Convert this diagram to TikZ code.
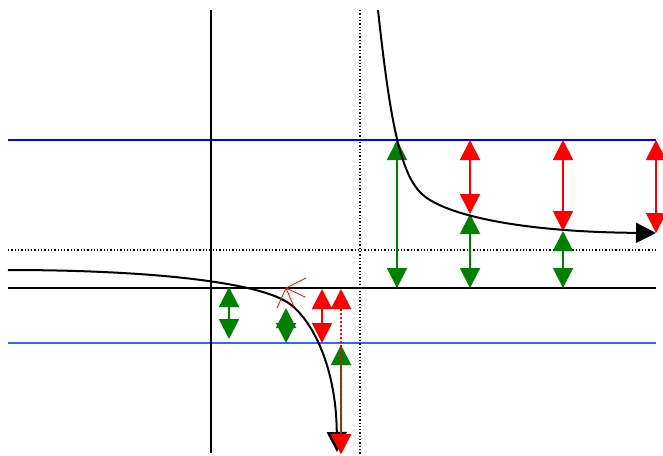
\documentclass[tikz,border=0pt]{standalone}
\usetikzlibrary{arrows.meta}
\definecolor{dgreen}{RGB}{0,128,0}
\definecolor{lblue}{RGB}{51,102,255}
\tikzset{
  tip/.tip={Triangle[length=20pt,width=20pt]},
  axisline/.style={black,line width=1.9pt},
  asym/.style={black,line width=1.3pt,dotted},
  curve/.style={black,line width=2pt,-tip},
  garrow/.style={dgreen,line width=2pt,tip-tip},
  rarrow/.style={red,line width=2pt,tip-tip},
}
\begin{document}
\begin{tikzpicture}[x=1pt,y=-1pt]
\useasboundingbox (0,0) rectangle (663,455);
% guide coordinates
\coordinate (xl) at (8,288); \coordinate (xr) at (656,288);
\coordinate (yt) at (211,10); \coordinate (yb) at (211,453);
\coordinate (hl) at (8,250); \coordinate (hr) at (656,250);
\coordinate (vt) at (360,10); \coordinate (vb) at (360,455);
\coordinate (bl) at (8,140); \coordinate (br) at (656,140);
\coordinate (ll) at (8,343); \coordinate (lr) at (656,343);
% lines
\draw[blue,line width=1.9pt] (bl) -- (br);
\draw[lblue,line width=1.9pt] (ll) -- (lr);
\draw[asym] (hl) -- (hr);
\draw[asym] (vt) -- (vb);
\draw[axisline] (xl) -- (xr);
\draw[axisline] (yt) -- (yb);
% right-side arrows
\coordinate (a1t) at (397,140); \coordinate (a1b) at (397,288);
\coordinate (a2t) at (470,140); \coordinate (a2m) at (470,214); \coordinate (a2b) at (470,288);
\coordinate (a3t) at (563,140); \coordinate (a3m) at (563,231); \coordinate (a3b) at (563,288);
\coordinate (a4t) at (656,140); \coordinate (a4m) at (656,233);
\draw[garrow] (a1t) -- (a1b);
\draw[rarrow] (a2t) -- (a2m);
\draw[garrow] (a2m) -- (a2b);
\draw[rarrow] (a3t) -- (a3m);
\draw[garrow] (a3m) -- (a3b);
\draw[rarrow] (a4t) -- (a4m);
% left-side arrows
\coordinate (b1t) at (229,287); \coordinate (b1b) at (229,339);
\coordinate (b2t) at (286,308); \coordinate (b2b) at (286,343);
\coordinate (b3t) at (322,289); \coordinate (b3b) at (322,343);
\coordinate (b4t) at (341,289); \coordinate (b4b) at (341,454);
\coordinate (b5t) at (341,345); \coordinate (b5b) at (341,454);
\draw[garrow] (b1t) -- (b1b);
\draw[garrow] (b2t) -- (b2b);
\draw[rarrow] (b3t) -- (b3b);
% curve branches
\coordinate (l0) at (8,270); \coordinate (l1) at (287,302); \coordinate (l2) at (337,452);
\coordinate (r0) at (378,10); \coordinate (r1) at (423,195); \coordinate (r2) at (656,233);
\draw[curve] (l0) .. controls (150,270) and (255,282) .. (l1)
             .. controls (308,315) and (336,360) .. (l2);
\draw[curve] (r0) .. controls (390,120) and (400,175) .. (r1)
             .. controls (446,215) and (520,232) .. (r2);
\draw[garrow] (b5t) -- (b5b);
\draw[rarrow,dotted] (b4t) -- (b4b);
% degenerate red arrow (fan)
\coordinate (f) at (286,288);
\coordinate (f1) at (306,278); \coordinate (f2) at (305,297);
\coordinate (f3) at (294,307); \coordinate (f4) at (277,308);
\draw[red,line width=0.8pt] (f) -- (f1) (f) -- (f2) (f) -- (f3) (f) -- (f4);
\end{tikzpicture}
\end{document}
